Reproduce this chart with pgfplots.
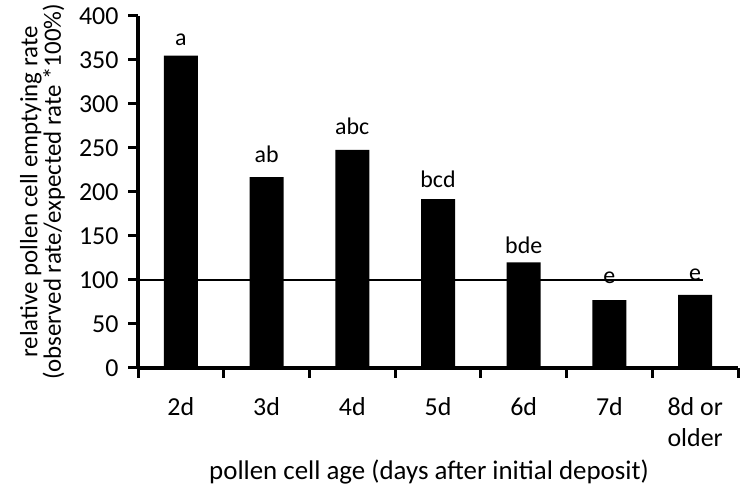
\documentclass[border=0pt]{standalone}
\usepackage{fontspec}
\setmainfont{Carlito}
\usepackage{pgfplots}
\pgfplotsset{compat=1.18}
\usepackage{pgfplotstable}
\pgfplotstableread{
x y ly lab
0 355 367 a
1 217 234 ab
2 248 265 abc
3 192 205 bcd
4 120 130 bde
5 77 96 e
6 83 99 e
}\datatable
\begin{document}
\begin{tikzpicture}[x=1bp,y=1bp]
\useasboundingbox (0,0) rectangle (741,489);
\begin{axis}[
  at={(138bp,121bp)}, anchor=south west,
  scale only axis, width=600bp, height=352bp,
  xmin=-0.5, xmax=6.5, ymin=0, ymax=400,
  axis x line*=bottom, axis y line*=left,
  axis line style={line width=3.5bp, -},
  ytick={0,50,...,400},
  xtick={0,...,6},
  xticklabels={2d,3d,4d,5d,6d,7d,{8d or\\older}},
  xticklabel style={align=center, font=\fontsize{26}{31}\selectfont, anchor=north, inner sep=0pt, yshift=-19bp},
  yticklabel style={font=\fontsize{26}{31}\selectfont, anchor=east, xshift=-6bp},
  /pgf/number format/assume math mode=true,
  major x tick style={draw=none},
  minor xtick={-0.5,0.5,...,6.5},
  minor x tick style={line width=3bp, black},
  y tick style={line width=3bp, black},
  minor tick length=10bp,
  major tick length=10bp,
  tick align=outside,
  xlabel={pollen cell age (days after initial deposit)},
  xlabel style={font=\fontsize{27}{32}\selectfont, at={(axis description cs:0.485,0)}, anchor=base, yshift=-112bp},
  ylabel={relative pollen cell emptying rate\\(observed rate/expected rate *100\%)},
  ylabel style={font=\fontsize{25}{22}\selectfont, align=center, rotate=0, at={(axis description cs:-0.1217,0.5)}, anchor=south, inner sep=0pt},
  clip=false,
]
\addplot[ybar, bar width=34bp, fill=black, draw=none] table[x=x, y=y]{\datatable};
\addplot[line width=2.3bp, black] coordinates {(-0.5,100) (6.09,100)};
\addplot[draw=none, mark=none, nodes near coords, point meta=explicit symbolic,
  nodes near coords style={font=\fontsize{24}{28}\selectfont, anchor=base, inner sep=0pt}]
  table[x=x, y=ly, meta=lab]{\datatable};
\end{axis}
\end{tikzpicture}
\end{document}
